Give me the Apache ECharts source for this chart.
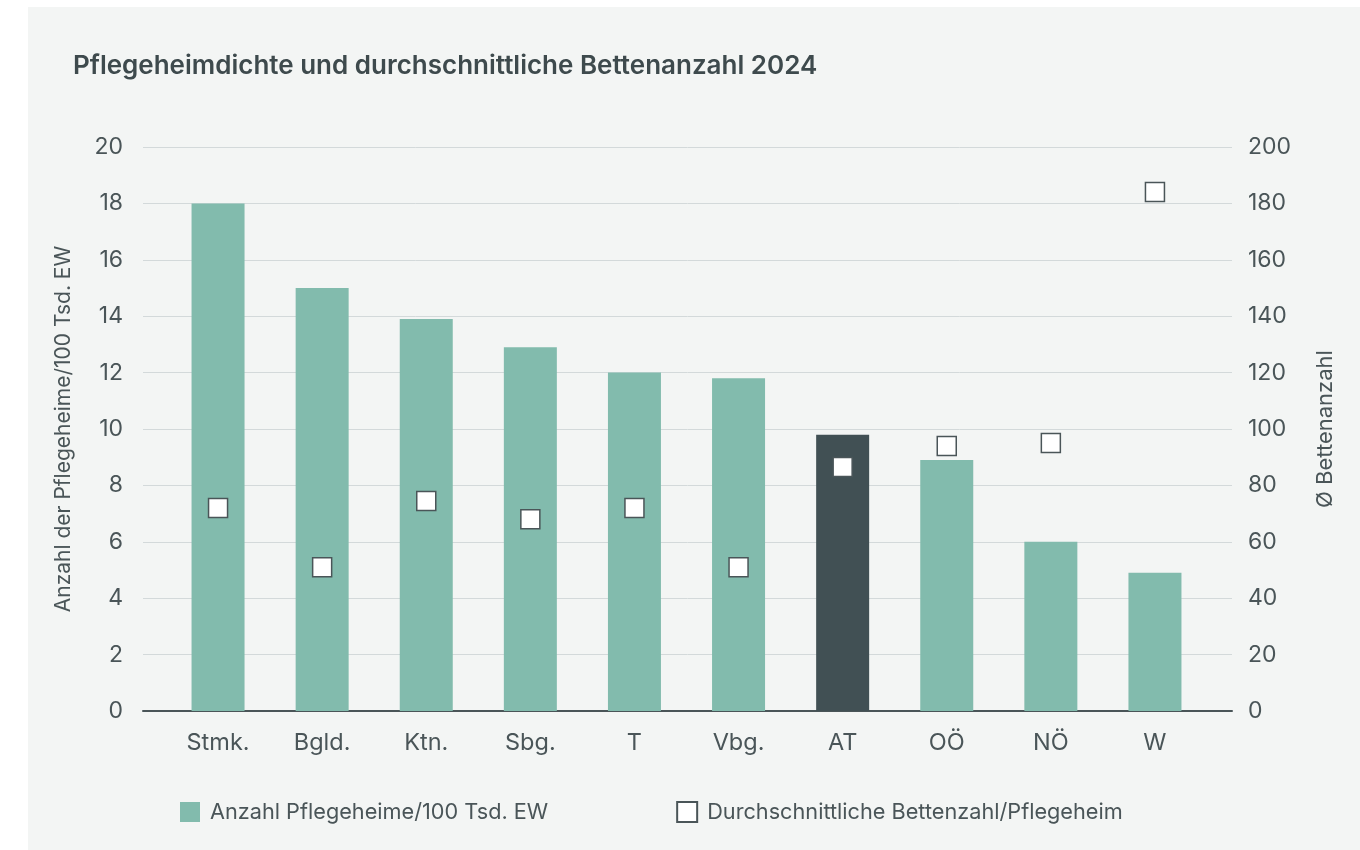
<!DOCTYPE html>
<html>
<head>
    <meta charset="utf-8">
    <title>Pflegeheimdichte</title>
    <script src="https://cdn.jsdelivr.net/npm/echarts@6/dist/echarts.min.js"></script>
    <style>
        html, body { margin: 0; padding: 0; background: #ffffff; }
        #panel { position: absolute; left: 28px; top: 7px; width: 1332px; height: 843px; background: #f3f5f4; }
        #main { position: absolute; left: 0; top: 0; width: 1360px; height: 850px; }
    </style>
</head>
<body>
    <div id="panel"></div>
    <div id="main"></div>
    <script type="text/javascript">
        // Daten
        var categories = ['Stmk.', 'Bgld.', 'Ktn.', 'Sbg.', 'T', 'Vbg.', 'AT', 'OÖ', 'NÖ', 'W'];
        var heimeProEW = [18.0, 15.0, 13.9, 12.9, 12.0, 11.8, 9.8, 8.9, 6.0, 4.9];
        var bettenProHeim = [72, 51, 74.5, 68, 72, 51, 86.5, 94, 95, 184];
        var leftTicks = [0, 2, 4, 6, 8, 10, 12, 14, 16, 18, 20];
        var rightTicks = [0, 20, 40, 60, 80, 100, 120, 140, 160, 180, 200];

        var textColor = '#4a5558';
        var fontName = 'Inter';

        var myChart = echarts.init(document.getElementById('main'));

        // grid 0: Gitterlinien + Achsen, grid 1: Balken/Punkte (etwas eingerückt)
        var option = {
            backgroundColor: 'transparent',
            textStyle: { fontFamily: fontName, color: textColor },
            title: {
                text: 'Pflegeheimdichte und durchschnittliche Bettenanzahl 2024',
                left: 68,
                top: 48,
                textStyle: { fontFamily: fontName, fontSize: 26, fontWeight: 600, color: '#3e4a4d' }
            },
            grid: [
                { left: 143, right: 128, top: 147, bottom: 139 },
                { left: 166, right: 153, top: 147, bottom: 139 }
            ],
            legend: {
                left: 175,
                top: 796,
                itemWidth: 20,
                itemHeight: 20,
                itemGap: 128,
                textStyle: { fontFamily: fontName, fontSize: 21.7, color: textColor, padding: [0, 0, 0, 5] },
                data: [
                    { name: 'Anzahl Pflegeheime/100 Tsd. EW', icon: 'rect' },
                    { name: 'Durchschnittliche Bettenzahl/Pflegeheim', icon: 'rect' }
                ]
            },
            xAxis: [
                {
                    type: 'value',
                    gridIndex: 0,
                    min: 0,
                    max: 1,
                    axisLine: { lineStyle: { color: textColor, width: 2 } },
                    axisTick: { show: false },
                    axisLabel: { show: false },
                    splitLine: { show: false }
                },
                {
                    type: 'category',
                    gridIndex: 1,
                    data: categories,
                    axisLine: { show: false },
                    axisTick: { show: false },
                    axisLabel: { color: textColor, fontSize: 23.5, margin: 20 }
                }
            ],
            yAxis: [
                {
                    type: 'value',
                    gridIndex: 0,
                    min: leftTicks[0],
                    max: leftTicks[leftTicks.length - 1],
                    interval: 2,
                    name: 'Anzahl der Pflegeheime/100 Tsd. EW',
                    nameLocation: 'middle',
                    nameGap: 69,
                    nameTextStyle: { fontSize: 21, color: textColor },
                    axisLine: { show: false },
                    axisTick: { show: false },
                    axisLabel: { color: textColor, fontSize: 23, margin: 20 },
                    splitLine: { lineStyle: { color: '#d3d9da', width: 1 } }
                },
                {
                    type: 'value',
                    gridIndex: 0,
                    position: 'right',
                    min: rightTicks[0],
                    max: rightTicks[rightTicks.length - 1],
                    interval: 20,
                    name: 'Ø Bettenanzahl',
                    nameLocation: 'middle',
                    nameGap: 82,
                    nameRotate: 90,
                    nameTextStyle: { fontSize: 22, color: textColor },
                    axisLine: { show: false },
                    axisTick: { show: false },
                    axisLabel: { color: textColor, fontSize: 23, margin: 16 },
                    splitLine: { show: false }
                },
                {
                    type: 'value',
                    gridIndex: 1,
                    min: leftTicks[0],
                    max: leftTicks[leftTicks.length - 1],
                    show: false
                },
                {
                    type: 'value',
                    gridIndex: 1,
                    min: rightTicks[0],
                    max: rightTicks[rightTicks.length - 1],
                    show: false
                }
            ],
            series: [
                {
                    name: 'Anzahl Pflegeheime/100 Tsd. EW',
                    type: 'bar',
                    xAxisIndex: 1,
                    yAxisIndex: 2,
                    barWidth: 53,
                    data: heimeProEW.map(function (v, i) {
                        return categories[i] === 'AT'
                            ? { value: v, itemStyle: { color: '#415054' } }
                            : v;
                    }),
                    itemStyle: { color: '#82bbad' },
                    z: 2
                },
                {
                    name: 'Durchschnittliche Bettenzahl/Pflegeheim',
                    type: 'scatter',
                    xAxisIndex: 1,
                    yAxisIndex: 3,
                    symbol: 'rect',
                    symbolSize: 19,
                    data: bettenProHeim,
                    itemStyle: { color: '#ffffff', borderColor: '#4a5558', borderWidth: 1.5, opacity: 1 },
                    z: 5
                }
            ]
        };

        myChart.setOption(option);
    </script>
</body>
</html>
